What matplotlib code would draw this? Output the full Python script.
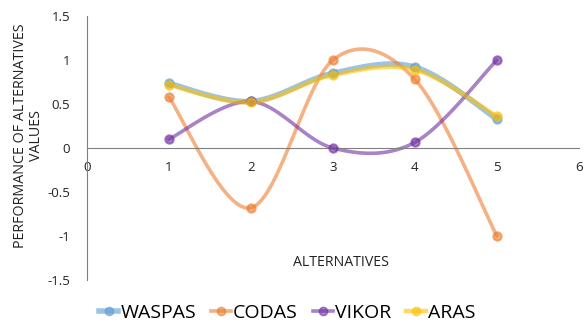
import numpy as np
import matplotlib.pyplot as plt

alternatives = [1, 2, 3, 4, 5]
waspas = [0.735, 0.53, 0.85, 0.92, 0.33]
codas = [0.58, -0.68, 1.0, 0.78, -1.0]
vikor = [0.10, 0.53, 0.0, 0.065, 1.0]
aras = [0.72, 0.52, 0.83, 0.89, 0.36]

series = [
    ("WASPAS", waspas, "#5B9BD5", 4.0),
    ("CODAS", codas, "#ED7D31", 2.6),
    ("VIKOR", vikor, "#7030A0", 2.6),
    ("ARAS", aras, "#FFC000", 3.2),
]


def smooth(x, y, n=30):
    # Excel-style smoothed line: cubic Bezier with Catmull-Rom control points
    x = np.asarray(x, float)
    y = np.asarray(y, float)
    px = np.concatenate([[x[0]], x, [x[-1]]])
    py = np.concatenate([[y[0]], y, [y[-1]]])
    xs, ys = [], []
    t = np.linspace(0, 1, n)
    for i in range(1, len(px) - 2):
        p0 = np.array([px[i], py[i]])
        p3 = np.array([px[i + 1], py[i + 1]])
        p1 = p0 + (np.array([px[i + 1], py[i + 1]]) - np.array([px[i - 1], py[i - 1]])) / 6
        p2 = p3 - (np.array([px[i + 2], py[i + 2]]) - np.array([px[i], py[i]])) / 6
        b = ((1 - t) ** 3)[:, None] * p0 + (3 * (1 - t) ** 2 * t)[:, None] * p1 \
            + (3 * (1 - t) * t ** 2)[:, None] * p2 + (t ** 3)[:, None] * p3
        xs.extend(b[:, 0])
        ys.extend(b[:, 1])
    return xs, ys


plt.rcParams['font.family'] = ['Open Sans', 'DejaVu Sans']

fig = plt.figure(figsize=(5.86, 3.29), dpi=100)
ax = fig.add_axes([0.148, 0.149, 0.84, 0.802])

for name, vals, color, lw in series:
    sx, sy = smooth(alternatives, vals)
    ax.plot(sx, sy, color=color, lw=lw, alpha=0.6, solid_capstyle='round', zorder=2)
    ax.plot(alternatives, vals, 'o', color=color, ms=6, alpha=0.6, mec=color, mew=1.5, zorder=3)
    ax.plot([], [], '-o', color=color, lw=lw, alpha=0.6, ms=6, label=name)

ax.set_xlim(0, 6)
ax.set_ylim(-1.5, 1.5)
ax.set_xticks(range(0, 7))
ax.set_yticks([-1.5, -1, -0.5, 0, 0.5, 1, 1.5])
ax.set_yticklabels(["-1.5", "-1", "-0.5", "0", "0.5", "1", "1.5"])
ax.spines['top'].set_visible(False)
ax.spines['right'].set_visible(False)
ax.spines['bottom'].set_position(('data', 0))
ax.spines['bottom'].set_color('#808080')
ax.spines['left'].set_color('#808080')
ax.tick_params(length=0, labelsize=9.5, colors='#222222')
ax.tick_params(axis='x', pad=9)
ax.tick_params(axis='y', pad=12)

fig.text(341 / 586, 1 - 263 / 329, "ALTERNATIVES", ha='center', va='center', fontsize=10.2, color='#222222')
fig.text(0.048, 1 - 136 / 329, "PERFORMANCE OF ALTERNATIVES\nVALUES", ha='center', va='center',
         rotation=90, fontsize=10.3, color='#222222', linespacing=1.1)

fig.legend(loc='center', bbox_to_anchor=(287 / 586, 1 - 313 / 329), ncol=4, frameon=False,
           fontsize=14, handlelength=1.0, handletextpad=0.1, columnspacing=0.8)

fig.savefig("out.png", dpi=100)
